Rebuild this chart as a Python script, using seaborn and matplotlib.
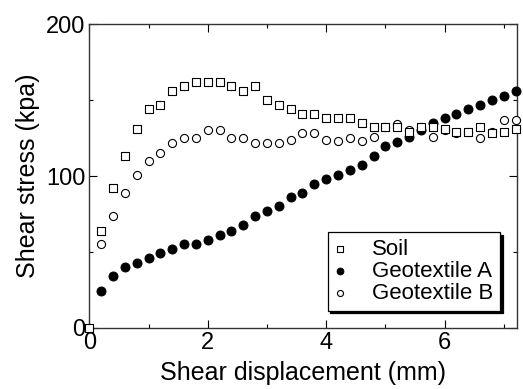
import numpy as np
import pandas as pd
import seaborn as sns
import matplotlib
matplotlib.use("Agg")
import matplotlib.pyplot as plt
from matplotlib.ticker import MultipleLocator

# данные
disp_soil = [0.0, 0.2, 0.4, 0.6, 0.8, 1.0, 1.2, 1.4, 1.6, 1.8, 2.0, 2.2, 2.4,
             2.6, 2.8, 3.0, 3.2, 3.4, 3.6, 3.8, 4.0, 4.2, 4.4, 4.6, 4.8, 5.0,
             5.2, 5.4, 5.6, 5.8, 6.0, 6.2, 6.4, 6.6, 6.8, 7.0, 7.2]
soil = [0, 64, 92, 113, 131, 144, 147, 156, 159, 162, 162, 162, 159,
        156, 159, 150, 147, 144, 141, 141, 138, 138, 138, 135, 132, 132,
        132, 129, 132, 132, 131, 129, 129, 132, 128, 129, 131]

disp_geo = [0.2, 0.4, 0.6, 0.8, 1.0, 1.2, 1.4, 1.6, 1.8, 2.0, 2.2, 2.4,
            2.6, 2.8, 3.0, 3.2, 3.4, 3.6, 3.8, 4.0, 4.2, 4.4, 4.6, 4.8, 5.0,
            5.2, 5.4, 5.6, 5.8, 6.0, 6.2, 6.4, 6.6, 6.8, 7.0, 7.2]
geo_a = [24, 34, 40, 43, 46, 49, 52, 55, 55, 58, 61, 64,
         67.5, 74, 77, 80, 86, 89, 95, 98, 101, 104, 107, 113, 119.5,
         122.5, 126, 130, 135, 138, 141, 144, 147, 150, 153, 156]
geo_b = [55, 74, 89, 101, 110, 115, 122, 125, 125, 130, 130, 125,
         125, 122, 122, 122, 124, 128.5, 128.5, 124, 123, 125, 123, 126, 132,
         134, 130, 132, 126, 130, 128, 129, 125, 129, 137, 137]

df_soil = pd.DataFrame({"x": disp_soil, "y": soil})
df_geo = pd.DataFrame({"x": disp_geo, "a": geo_a, "b": geo_b})

sns.set_style("ticks")
plt.rcParams["font.family"] = ["Liberation Sans", "DejaVu Sans"]
plt.rcParams["text.color"] = "black"
plt.rcParams["axes.labelcolor"] = "black"
plt.rcParams["xtick.color"] = "black"
plt.rcParams["ytick.color"] = "black"

fig, ax = plt.subplots(figsize=(5.23, 3.89), dpi=100)
fig.subplots_adjust(left=0.171, right=0.988, bottom=0.157, top=0.938)

# порядок: сначала закрашенные, потом открытые (они перекрывают)
sns.scatterplot(data=df_geo, x="x", y="a", ax=ax, marker="o", s=42,
                color="black", edgecolor="black", linewidth=0.7,
                label="Geotextile A", zorder=3, clip_on=False)
sns.scatterplot(data=df_geo, x="x", y="b", ax=ax, marker="o", s=34,
                facecolor="white", edgecolor="black", linewidth=0.8,
                label="Geotextile B", zorder=4, clip_on=False)
sns.scatterplot(data=df_soil, x="x", y="y", ax=ax, marker="s", s=30,
                facecolor="white", edgecolor="black", linewidth=0.8,
                label="Soil", zorder=5, clip_on=False)

ax.set_xlim(0, 7.22)
ax.set_ylim(0, 200)
ax.xaxis.set_major_locator(MultipleLocator(2))
ax.xaxis.set_minor_locator(MultipleLocator(1))
ax.yaxis.set_major_locator(MultipleLocator(100))
ax.yaxis.set_minor_locator(MultipleLocator(50))
ax.tick_params(which="both", direction="in", top=True, right=True,
               colors="black", labelcolor="black", labelsize=17, width=0.8)
ax.tick_params(which="major", length=6, pad=3)
ax.tick_params(which="minor", length=3)
for sp in ax.spines.values():
    sp.set_visible(True)
    sp.set_linewidth(1.0)
    sp.set_color("#333333")

ax.set_xlabel("Shear displacement (mm)", fontsize=18, labelpad=5, color="black")
ax.set_ylabel("Shear stress (kpa)", fontsize=18, labelpad=4, color="black")

handles, labels = ax.get_legend_handles_labels()
order = [2, 0, 1]
leg = ax.legend([handles[i] for i in order], [labels[i] for i in order],
                loc="lower right", bbox_to_anchor=(0.961, 0.057),
                borderaxespad=0, fontsize=16, frameon=True, fancybox=False,
                shadow={"color": "black", "alpha": 1}, markerscale=0.75,
                handlelength=0.5, handletextpad=1.2, labelspacing=0.05,
                borderpad=0.3, framealpha=1)
leg.get_frame().set_edgecolor("black")
leg.get_frame().set_linewidth(0.9)
for t in leg.get_texts():
    t.set_color("black")

plt.savefig("out.png", dpi=100)
